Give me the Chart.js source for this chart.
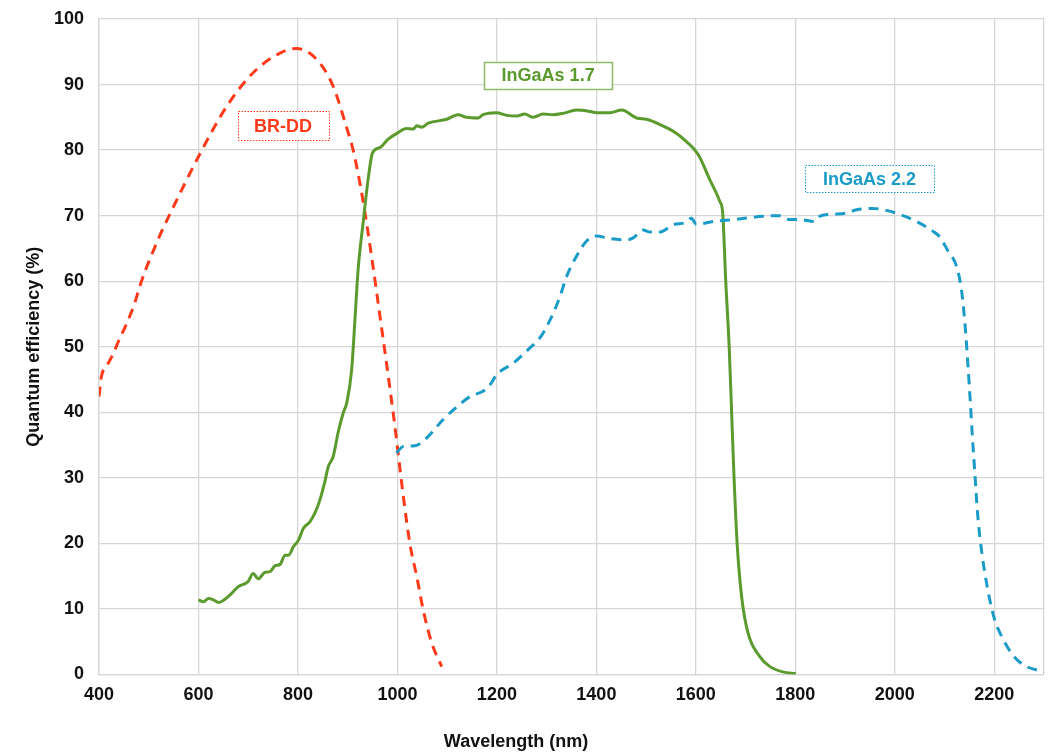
<!DOCTYPE html>
<html>
<head>
<meta charset="utf-8">
<title>Quantum efficiency</title>
<script src="https://cdn.jsdelivr.net/npm/chart.js@4.4.1/dist/chart.umd.min.js"></script>
<style>
  html, body { margin: 0; padding: 0; background: #fff; }
  #wrap { width: 1051px; height: 756px; }
</style>
</head>
<body>
<div id="wrap"><canvas id="qe" width="1051" height="756"></canvas></div>
<script>
// Wavelength (nm) and quantum efficiency (%) for each sensor
const brddWavelength = [400, 405, 415, 429, 439, 456, 472, 482, 493, 509, 523, 543, 602, 657, 710, 764, 797, 838, 871, 898, 911, 931, 948, 965, 982, 995, 1012, 1025, 1039, 1052, 1069, 1089];
const brddQE         = [42.4, 45.5, 47.0, 49.0, 50.8, 53.6, 56.7, 59.2, 61.6, 64.6, 67.1, 70.3, 79.3, 86.7, 91.8, 94.8, 95.5, 93.8, 89.7, 83.4, 80.0, 72.2, 63.8, 54.6, 45.3, 37.8, 27.1, 20.0, 14.9, 9.8, 4.8, 1.2];

const ingaas17Wavelength = [600, 610, 620, 630, 640, 663, 680, 700, 710, 720, 734, 744, 754, 764, 774, 781, 791, 801, 811, 824, 834, 844, 854, 861, 871, 881, 891, 898, 908, 915, 921, 931, 941, 950, 965, 982, 1002, 1018, 1032, 1039, 1049, 1062, 1099, 1122, 1139, 1162, 1172, 1199, 1220, 1240, 1256, 1273, 1293, 1313, 1333, 1360, 1387, 1400, 1427, 1451, 1481, 1501, 1528, 1554, 1581, 1605, 1628, 1648, 1654, 1660, 1667, 1672, 1677, 1683, 1692, 1705, 1729, 1749, 1775, 1801];
const ingaas17QE         = [11.4, 11.1, 11.6, 11.4, 11.0, 12.1, 13.4, 14.2, 15.4, 14.6, 15.6, 15.7, 16.6, 16.8, 18.2, 18.2, 19.5, 20.5, 22.3, 23.3, 24.6, 26.6, 29.4, 31.7, 33.3, 37.0, 39.9, 41.4, 46.5, 54.6, 61.8, 68.9, 75.5, 79.6, 80.4, 81.7, 82.7, 83.3, 83.2, 83.7, 83.5, 84.1, 84.7, 85.4, 85.0, 84.9, 85.4, 85.7, 85.3, 85.2, 85.5, 85.0, 85.5, 85.4, 85.6, 86.1, 85.9, 85.7, 85.7, 86.1, 84.9, 84.7, 83.9, 82.9, 81.3, 79.3, 75.5, 72.2, 70.4, 60.2, 50.0, 39.9, 29.7, 20.0, 11.9, 6.3, 2.7, 1.2, 0.4, 0.1];

const ingaas22Wavelength = [998, 1012, 1035, 1059, 1092, 1116, 1146, 1176, 1189, 1199, 1233, 1266, 1286, 1307, 1327, 1340, 1360, 1380, 1400, 1427, 1461, 1474, 1494, 1508, 1528, 1554, 1581, 1591, 1601, 1635, 1675, 1735, 1769, 1789, 1809, 1839, 1849, 1876, 1903, 1923, 1956, 1983, 2010, 2044, 2077, 2090, 2107, 2124, 2134, 2141, 2147, 2152, 2156, 2161, 2166, 2171, 2181, 2191, 2201, 2215, 2235, 2258, 2300];
const ingaas22QE         = [33.8, 34.8, 34.9, 36.1, 38.9, 40.6, 42.4, 43.4, 44.5, 45.7, 47.5, 49.8, 51.3, 54.1, 57.7, 60.7, 63.8, 66.1, 66.9, 66.5, 66.3, 66.6, 67.8, 67.5, 67.5, 68.6, 69.0, 69.6, 68.7, 69.1, 69.4, 69.9, 70.0, 69.4, 69.4, 69.1, 69.9, 70.2, 70.4, 70.9, 71.1, 70.8, 70.2, 69.1, 67.6, 66.8, 64.6, 62.3, 58.7, 53.6, 47.3, 41.4, 36.3, 30.7, 25.0, 21.0, 15.5, 11.4, 8.3, 5.8, 3.2, 1.5, 0.4];

const seriesNames = ['BR-DD', 'InGaAs 1.7', 'InGaAs 2.2'];
const xTickValues = [400, 600, 800, 1000, 1200, 1400, 1600, 1800, 2000, 2200];
const yTickValues = [0, 10, 20, 30, 40, 50, 60, 70, 80, 90, 100];

const FONT = '"Liberation Sans", Arial, Helvetica, sans-serif';
const RED = '#FF3A1A';
const GREEN = '#5B9A2C';
const BLUE = '#1A9BC8';

function toPoints(xs, ys) {
  return xs.map((x, i) => ({ x: x, y: ys[i] }));
}

// Boxed series names, anchored in data coordinates
const seriesTags = [
  { text: seriesNames[0], x: 770,  y: 83.7, color: RED,   border: RED,       dash: [1.5, 1.5], lineWidth: 1,   w: 91,  h: 29 },
  { text: seriesNames[1], x: 1303, y: 91.4, color: GREEN, border: '#8DBA66', dash: [],         lineWidth: 1.5, w: 128, h: 27 },
  { text: seriesNames[2], x: 1949, y: 75.6, color: BLUE,  border: BLUE,      dash: [1.5, 1.5], lineWidth: 1,   w: 129, h: 27 }
];

const tagPlugin = {
  id: 'seriesTags',
  afterDatasetsDraw(chart) {
    const { ctx, scales } = chart;
    ctx.save();
    seriesTags.forEach(t => {
      const cx = scales.x.getPixelForValue(t.x);
      const cy = scales.y.getPixelForValue(t.y);
      ctx.fillStyle = '#fff';
      ctx.fillRect(cx - t.w / 2, cy - t.h / 2, t.w, t.h);
      ctx.setLineDash(t.dash);
      ctx.lineWidth = t.lineWidth;
      ctx.strokeStyle = t.border;
      ctx.strokeRect(Math.round(cx - t.w / 2) + 0.5, Math.round(cy - t.h / 2) + 0.5, t.w, t.h);
      ctx.setLineDash([]);
      ctx.fillStyle = t.color;
      ctx.font = 'bold 18px ' + FONT;
      ctx.textAlign = 'center';
      ctx.textBaseline = 'middle';
      ctx.fillText(t.text, cx, cy + 1);
    });
    ctx.restore();
  }
};

// Horizontal axis title
const xTitlePlugin = {
  id: 'xTitle',
  afterDraw(chart) {
    const { ctx } = chart;
    ctx.save();
    ctx.fillStyle = '#111';
    ctx.font = 'bold 18px ' + FONT;
    ctx.textAlign = 'center';
    ctx.textBaseline = 'middle';
    ctx.fillText('Wavelength (nm)', 516, 742);
    ctx.restore();
  }
};

new Chart(document.getElementById('qe'), {
  type: 'line',
  data: {
    datasets: [
      {
        label: seriesNames[0],
        data: toPoints(brddWavelength, brddQE),
        borderColor: RED,
        borderWidth: 3,
        borderDash: [10, 7],
        pointRadius: 0,
        cubicInterpolationMode: 'monotone',
        order: 3
      },
      {
        label: seriesNames[1],
        data: toPoints(ingaas17Wavelength, ingaas17QE),
        borderColor: GREEN,
        borderWidth: 3,
        pointRadius: 0,
        cubicInterpolationMode: 'monotone',
        order: 2
      },
      {
        label: seriesNames[2],
        data: toPoints(ingaas22Wavelength, ingaas22QE),
        borderColor: BLUE,
        borderWidth: 3,
        borderDash: [10, 7],
        pointRadius: 0,
        cubicInterpolationMode: 'monotone',
        order: 1
      }
    ]
  },
  options: {
    responsive: false,
    animation: false,
    devicePixelRatio: 1,
    layout: { padding: { left: 0, right: 7, top: 19, bottom: 0 } },
    plugins: {
      legend: { display: false },
      tooltip: { enabled: false }
    },
    scales: {
      x: {
        type: 'linear',
        min: 400,
        max: 2300,
        afterBuildTicks(scale) {
          scale.ticks = xTickValues.concat([2300]).map(v => ({ value: v }));
        },
        afterFit(scale) {
          scale.height = 81.5;
          scale.paddingLeft = 0;
          scale.paddingRight = 0;
        },
        ticks: {
          color: '#111',
          font: { family: FONT, size: 18, weight: 'bold' },
          padding: 10,
          maxRotation: 0,
          callback: v => (xTickValues.includes(v) ? String(v) : '')
        },
        grid: { color: '#D6D6D6', lineWidth: 1.3, drawTicks: false },
        border: { color: '#D6D6D6', width: 1.3 }
      },
      y: {
        type: 'linear',
        min: 0,
        max: 100,
        afterBuildTicks(scale) {
          scale.ticks = yTickValues.map(v => ({ value: v }));
        },
        afterFit(scale) {
          scale.width = 99;
          scale.paddingTop = 0;
          scale.paddingBottom = 0;
        },
        ticks: {
          color: '#111',
          font: { family: FONT, size: 18, weight: 'bold' },
          padding: 15
        },
        title: {
          display: true,
          text: 'Quantum efficiency (%)',
          color: '#111',
          font: { family: FONT, size: 18, weight: 'bold' },
          padding: { top: 23, bottom: 0 }
        },
        grid: { color: '#D6D6D6', lineWidth: 1.3, drawTicks: false },
        border: { color: '#D6D6D6', width: 1.3 }
      }
    }
  },
  plugins: [tagPlugin, xTitlePlugin]
});
</script>
</body>
</html>
